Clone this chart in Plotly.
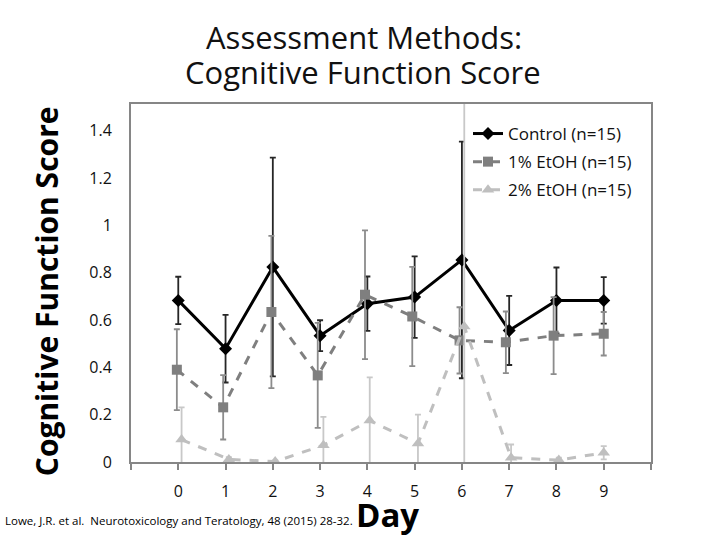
import plotly.graph_objects as go

days = [0, 1, 2, 3, 4, 5, 6, 7, 8, 9]
tick_labels = ["0", "1", "2", "3", "4", "5", "6", "7", "8", "9"]

control_name = "Control (n=15)"
control_vals = [0.683, 0.479, 0.824, 0.534, 0.669, 0.697, 0.854, 0.556, 0.683, 0.683]
control_err = [0.100, 0.143, 0.462, 0.065, 0.115, 0.172, 0.500, 0.146, 0.139, 0.098]

etoh1_name = "1% EtOH (n=15)"
etoh1_x = [-0.03, 0.95, 1.97, 2.95, 3.95, 4.95, 5.95, 6.93, 7.94, 9.0]
etoh1_vals = [0.390, 0.231, 0.634, 0.366, 0.707, 0.615, 0.514, 0.506, 0.534, 0.542]
etoh1_err = [0.171, 0.136, 0.322, 0.222, 0.272, 0.210, 0.140, 0.130, 0.163, 0.092]

etoh2_name = "2% EtOH (n=15)"
etoh2_x = [0.07, 1.07, 2.05, 3.07, 4.05, 5.07, 6.05, 7.04, 8.05, 9.0]
etoh2_vals = [0.095, 0.011, 0.002, 0.071, 0.175, 0.078, 0.573, 0.018, 0.008, 0.039]
etoh2_err = [0.136, 0.010, 0.005, 0.120, 0.183, 0.122, 1.000, 0.056, 0.010, 0.028]

W, H = 720, 540
L, R, T, B = 131, 651, 104, 462.5


def px_x(px):
    return (px - L) / (R - L)


def px_y(py):
    return (B - py) / (B - T)


fig = go.Figure()

fig.add_trace(go.Scatter(
    x=days, y=control_vals, name=control_name, mode="lines+markers",
    legendgroup="c",
    line=dict(color="#000000", width=3),
    marker=dict(symbol="diamond", size=10, color="#000000"),
    error_y=dict(type="data", array=control_err, visible=True,
                 color="#262626", thickness=1.8, width=3),
))
fig.add_trace(go.Scatter(
    x=etoh1_x, y=etoh1_vals, name=etoh1_name, mode="lines+markers",
    legendgroup="e1",
    line=dict(color="#7f7f7f", width=3, dash="dash"),
    marker=dict(symbol="square", size=10, color="#7f7f7f"),
    error_y=dict(type="data", array=etoh1_err, visible=True,
                 color="#8c8c8c", thickness=1.8, width=3),
))
fig.add_trace(go.Scatter(
    x=etoh2_x, y=etoh2_vals, name=etoh2_name, mode="lines+markers",
    legendgroup="e2",
    line=dict(color="#bfbfbf", width=3, dash="dash"),
    marker=dict(symbol="triangle-up", size=11, color="#bfbfbf"),
    error_y=dict(type="data", array=etoh2_err, visible=True,
                 color="#c8c8c8", thickness=1.8, width=3),
))

font_main = "Open Sans"

annotations = [
    dict(text="Assessment Methods:", x=px_x(363.5), y=px_y(37), xref="paper", yref="paper",
         showarrow=False, xanchor="center", yanchor="middle",
         font=dict(family=font_main, size=31, color="#111111")),
    dict(text="Cognitive Function Score", x=px_x(363), y=px_y(72), xref="paper", yref="paper",
         showarrow=False, xanchor="center", yanchor="middle",
         font=dict(family=font_main, size=31, color="#111111")),
    dict(text="<b>Cognitive Function Score</b>", x=px_x(46), y=px_y(291.5), xref="paper", yref="paper",
         showarrow=False, xanchor="center", yanchor="middle", textangle=-90,
         font=dict(family=font_main, size=30, color="#000000")),
    dict(text="<b>Day</b>", x=px_x(387.5), y=px_y(515), xref="paper", yref="paper",
         showarrow=False, xanchor="center", yanchor="middle",
         font=dict(family=font_main, size=33, color="#000000")),
    dict(text="Lowe, J.R. et al.\u00a0\u00a0Neurotoxicology and Teratology, 48 (2015) 28-32.",
         x=px_x(3), y=px_y(521), xref="paper", yref="paper",
         showarrow=False, xanchor="left", yanchor="middle",
         font=dict(family=font_main, size=11.5, color="#000000")),
]

fig.update_layout(
    width=W, height=H,
    margin=dict(l=L, r=W - R, t=T, b=H - B, pad=0),
    paper_bgcolor="white", plot_bgcolor="white",
    showlegend=True,
    legend=dict(x=px_x(468), y=px_y(116), xanchor="left", yanchor="top",
                bgcolor="rgba(0,0,0,0)", borderwidth=0, itemwidth=30,
                tracegroupgap=3,
                font=dict(family=font_main, size=17, color="#111111")),
    annotations=annotations,
    xaxis=dict(range=[-1, 10], tickvals=list(range(-1, 11)),
               ticktext=[""] + tick_labels + [""],
               showgrid=False, zeroline=False,
               showline=True, linecolor="#868686", linewidth=2, mirror=True,
               ticks="outside", ticklen=6, tickwidth=1.5, tickcolor="#868686",
               ticklabelstandoff=8,
               tickfont=dict(family=font_main, size=16, color="#111111")),
    yaxis=dict(range=[0, 1.513], tickvals=[0, 0.2, 0.4, 0.6, 0.8, 1.0, 1.2, 1.4],
               ticktext=["0", "0.2", "0.4", "0.6", "0.8", "1", "1.2", "1.4"],
               showgrid=False, zeroline=False,
               showline=True, linecolor="#868686", linewidth=2, mirror=True,
               ticks="", ticklabelstandoff=14,
               tickfont=dict(family=font_main, size=16, color="#111111")),
)

fig.write_html("out.html", config={"displayModeBar": False},
               post_script="document.body.style.margin='0';document.body.style.overflow='hidden';")
